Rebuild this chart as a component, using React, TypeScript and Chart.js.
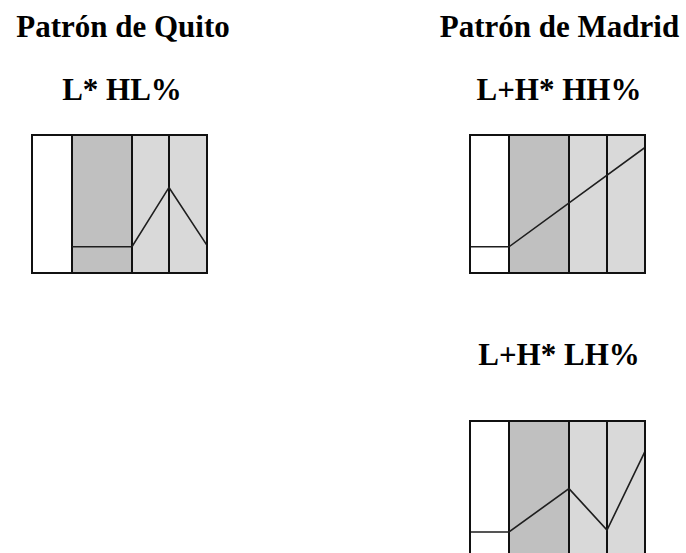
import React, { useEffect, useRef } from "react";
import { Chart, registerables } from "chart.js";

Chart.register(...registerables);

// Section boundaries (time units) of each contour panel
const QUITO_BOUNDS = [0, 40, 100, 137, 175];
const MADRID_BOUNDS = [0, 39, 99, 137, 175];

// F0 contours (x = time units, y = relative pitch 0..1)
const QUITO_HL_X = [40, 100, 137, 175];
const QUITO_HL_Y = [0.19, 0.19, 0.62, 0.2];
const MADRID_HH_X = [0, 39, 175];
const MADRID_HH_Y = [0.19, 0.19, 0.91];
const MADRID_LH_X = [0, 39, 99, 137, 175];
const MADRID_LH_Y = [0.196, 0.196, 0.51, 0.21, 0.78];

// Text labels
const TITLE_QUITO = "Patrón de Quito";
const TITLE_MADRID = "Patrón de Madrid";
const LABEL_QUITO = "L* HL%";
const LABEL_HH = "L+H* HH%";
const LABEL_LH = "L+H* LH%";

const SECTION_FILLS = ["#ffffff", "#c0c0c0", "#d9d9d9", "#d9d9d9"];
const BOX_W = 175;
const BOX_H = 138;
const PAD = 2;

function makeSectionsPlugin(bounds: number[]) {
  return {
    id: "sections",
    beforeDatasetsDraw(chart: any) {
      const { ctx, chartArea, scales } = chart;
      const x = scales.x;
      ctx.save();
      for (let i = 0; i < bounds.length - 1; i++) {
        const x0 = x.getPixelForValue(bounds[i]);
        const x1 = x.getPixelForValue(bounds[i + 1]);
        ctx.fillStyle = SECTION_FILLS[i % SECTION_FILLS.length];
        ctx.fillRect(x0, chartArea.top, x1 - x0, chartArea.bottom - chartArea.top);
      }
      ctx.strokeStyle = "#111";
      ctx.lineWidth = 2;
      for (let i = 1; i < bounds.length - 1; i++) {
        const px = x.getPixelForValue(bounds[i]);
        ctx.beginPath();
        ctx.moveTo(px, chartArea.top);
        ctx.lineTo(px, chartArea.bottom);
        ctx.stroke();
      }
      ctx.restore();
    },
    afterDatasetsDraw(chart: any) {
      const { ctx, chartArea } = chart;
      ctx.save();
      ctx.strokeStyle = "#111";
      ctx.lineWidth = 2;
      ctx.strokeRect(
        chartArea.left,
        chartArea.top,
        chartArea.right - chartArea.left,
        chartArea.bottom - chartArea.top
      );
      ctx.restore();
    },
  };
}

function Panel(props: { bounds: number[]; xs: number[]; ys: number[]; left: number; top: number }) {
  const ref = useRef<HTMLCanvasElement>(null);
  useEffect(() => {
    if (!ref.current) return;
    const data = props.xs.map((v, i) => ({ x: v, y: props.ys[i] }));
    const chart = new Chart(ref.current, {
      type: "line",
      data: {
        datasets: [
          {
            data,
            borderColor: "#1e1e1e",
            borderWidth: 1.6,
            pointRadius: 0,
            tension: 0,
            fill: false,
          },
        ],
      },
      options: {
        animation: false,
        responsive: false,
        maintainAspectRatio: false,
        layout: { padding: PAD },
        plugins: { legend: { display: false }, tooltip: { enabled: false }, title: { display: false } },
        scales: {
          x: { type: "linear", min: props.bounds[0], max: props.bounds[props.bounds.length - 1], display: false },
          y: { type: "linear", min: 0, max: 1, display: false },
        },
      },
      plugins: [makeSectionsPlugin(props.bounds)],
    } as any);
    return () => chart.destroy();
  }, []);
  return (
    <canvas
      ref={ref}
      width={BOX_W + PAD * 2}
      height={BOX_H + PAD * 2}
      style={{
        position: "absolute",
        left: props.left - PAD,
        top: props.top - PAD,
        width: BOX_W + PAD * 2,
        height: BOX_H + PAD * 2,
      }}
    />
  );
}

function Label(props: { text: string; cx: number; top: number }) {
  return (
    <div
      style={{
        position: "absolute",
        left: props.cx - 160,
        top: props.top,
        width: 320,
        textAlign: "center",
        fontFamily: '"Liberation Serif", "Times New Roman", serif',
        fontWeight: "bold",
        fontSize: 31,
        lineHeight: "31px",
        color: "#000",
        whiteSpace: "nowrap",
      }}
    >
      {props.text}
    </div>
  );
}

export default function App() {
  return (
    <div
      style={{
        position: "fixed",
        left: 0,
        top: 0,
        width: 686,
        height: 553,
        overflow: "hidden",
        background: "#fff",
      }}
    >
      <Label text={TITLE_QUITO} cx={123} top={11} />
      <Label text={TITLE_MADRID} cx={559.5} top={11} />
      <Label text={LABEL_QUITO} cx={122} top={74} />
      <Label text={LABEL_HH} cx={559} top={74} />
      <Label text={LABEL_LH} cx={559} top={339} />
      <Panel bounds={QUITO_BOUNDS} xs={QUITO_HL_X} ys={QUITO_HL_Y} left={32} top={135} />
      <Panel bounds={MADRID_BOUNDS} xs={MADRID_HH_X} ys={MADRID_HH_Y} left={470} top={135} />
      <Panel bounds={MADRID_BOUNDS} xs={MADRID_LH_X} ys={MADRID_LH_Y} left={470} top={421} />
    </div>
  );
}
